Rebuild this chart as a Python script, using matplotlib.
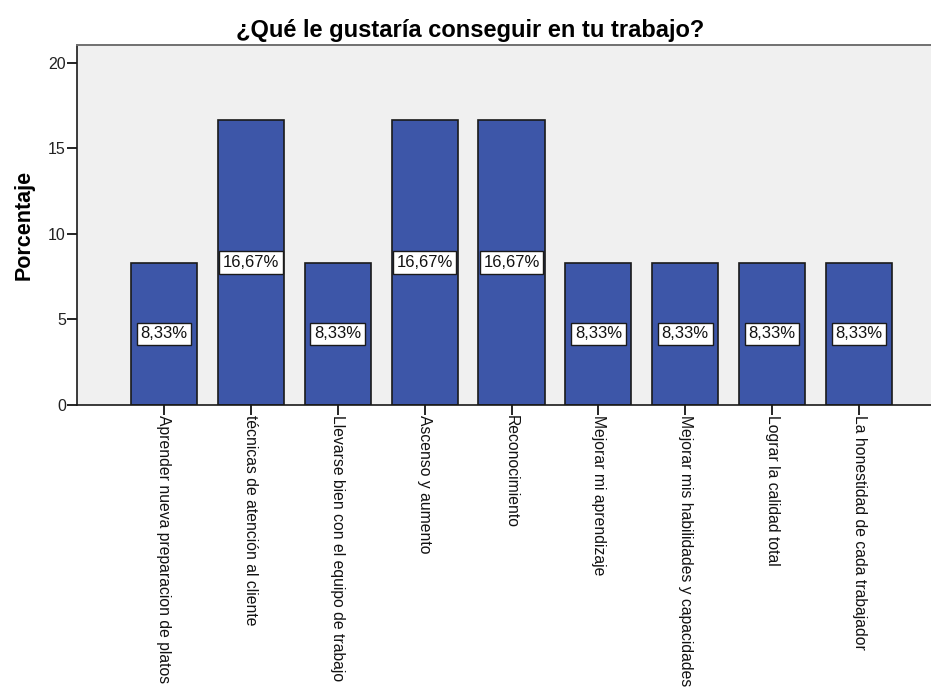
import matplotlib
matplotlib.use("Agg")
import matplotlib.pyplot as plt
import numpy as np

plt.rcParams["font.family"] = ["Liberation Sans", "DejaVu Sans"]

categories = [
    "Aprender nueva preparacion de platos",
    "técnicas de atención al cliente",
    "Llevarse bien con el equipo de trabajo",
    "Ascenso y aumento",
    "Reconocimiento",
    "Mejorar mi aprendizaje",
    "Mejorar mis habilidades y capacidades",
    "Lograr la calidad total",
    "La honestidad de cada trabajador",
]
percentages = [8.33, 16.67, 8.33, 16.67, 16.67, 8.33, 8.33, 8.33, 8.33]
y_ticks = [0, 5, 10, 15, 20]

fig = plt.figure(figsize=(9.31, 7.0), dpi=100)
ax = fig.add_axes([77 / 931, 1 - 405 / 700, 869 / 931, 360 / 700])
ax.set_facecolor("#F0F0F0")

x = np.arange(len(categories))
ax.bar(x, percentages, width=0.76, color="#3D56A8", edgecolor="#1A1A1A", linewidth=1.2, zorder=2)

for xi, val in zip(x, percentages):
    ax.text(xi, val / 2, f"{val:.2f}%".replace(".", ","), ha="center", va="center",
            fontsize=12, color="#111111", zorder=3,
            bbox=dict(boxstyle="square,pad=0.22", facecolor="white", edgecolor="#1A1A1A", linewidth=1.0))

ax.set_xlim(-1.0, 9.0)
ax.set_ylim(0, 21.05)
ax.set_yticks(y_ticks)
ax.set_xticks(x)
ax.set_xticklabels(categories, rotation=270, ha="center", va="top", fontsize=11.3, color="#111111")
ax.tick_params(axis="y", direction="out", length=7, width=1.2, labelsize=11.5, labelcolor="#222222", pad=1)
ax.tick_params(axis="x", direction="out", length=7, width=1.2, pad=0)

for side in ("left", "bottom"):
    ax.spines[side].set_color("#1A1A1A")
    ax.spines[side].set_linewidth(1.2)
ax.spines["top"].set_color("#707070")
ax.spines["top"].set_linewidth(1.4)
ax.spines["right"].set_visible(False)

ax.set_ylabel("Porcentaje", fontsize=15.5, fontweight="bold", labelpad=10)
fig.text(470 / 931, 1 - 30 / 700, "¿Qué le gustaría conseguir en tu trabajo?",
         ha="center", va="center", fontsize=17, fontweight="bold")

fig.savefig("out.png", dpi=100)
